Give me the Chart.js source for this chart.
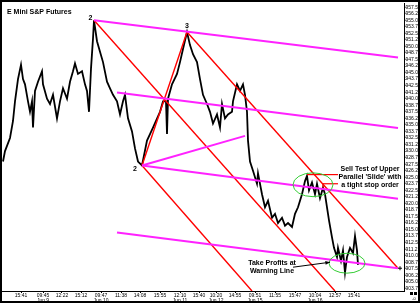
<!DOCTYPE html>
<html>
<head>
<meta charset="utf-8">
<script src="https://cdn.jsdelivr.net/npm/chart.js@4/dist/chart.umd.min.js"></script>
<style>
  html, body { margin: 0; padding: 0; background: #fff; }
  canvas { display: block; }
</style>
</head>
<body>
<canvas id="myChart" width="420" height="303"></canvas>
<script>
// price path, bar index vs price
const bars = [1, 3, 8, 11, 13, 16, 19, 21, 23, 26, 28, 30, 31, 33, 36, 40, 41, 45, 48, 51, 55, 58, 61, 65, 68, 71, 73, 76, 80, 83, 85, 87, 89, 91, 92,
  95, 98, 101, 105, 108, 111, 115, 118, 121, 123, 126, 130, 133, 136, 140,
  145, 151, 158, 161, 164, 165, 166, 170, 175, 178, 181, 185,
  188, 191, 195, 198, 201, 205, 208, 211, 215, 218, 220, 223, 226, 230, 231, 235, 238, 241, 243, 245, 246, 248,
  251, 255, 256, 260, 263, 266, 270, 273, 276, 280, 283, 286, 290, 293, 296, 300, 303, 305, 307, 310, 313, 315, 318, 321, 323,
  325, 327, 330, 332, 335, 336, 339, 341, 343, 345, 348, 351, 353, 355, 356];
const prices = [928.0, 930.0, 932.5, 935.75, 939.5, 943.75, 946.5, 943.75, 942.75, 939.5, 937.5, 939.5, 934.5, 941.5, 943.25, 945.25, 942.75, 940.0, 939.0, 940.75, 936.25, 939.5, 942.0, 940.0, 943.25, 945.25, 946.75, 944.75, 945.25, 942.75, 941.5, 937.5, 945.75, 951.5, 955.0,
  951.0, 949.0, 947.0, 943.25, 942.0, 940.75, 939.5, 937.0, 939.5, 940.75, 936.25, 933.75, 930.5, 928.0, 927.25,
  932.0, 934.5, 937.5, 939.5, 939.5, 933.25, 940.0, 942.75, 944.75, 947.0, 949.5, 952.75,
  950.25, 948.5, 947.0, 943.75, 940.75, 939.0, 937.5, 935.25, 937.0, 934.5, 939.0, 936.25, 937.0, 937.5, 939.5, 942.75, 941.5, 942.75, 940.75, 937.5, 932.0, 928.0,
  926.25, 923.75, 925.75, 921.75, 919.25, 920.5, 917.25, 918.0, 916.25, 917.25, 915.75, 916.25, 915.5, 918.0, 919.25, 921.75, 924.25, 925.25, 922.5, 924.0, 921.75, 923.75, 921.0, 923.0, 921.75,
  919.25, 916.75, 913.5, 911.5, 909.75, 911.5, 909.0, 911.0, 906.75, 909.75, 911.5, 910.5, 913.75, 911.0, 908.25];

// trend lines: [bar1, price1, bar2, price2]
const redLines = [
  [92, 955.0, 333, 903.25],
  [185, 952.75, 396, 907.6],
  [140, 927.25, 250, 903.25],
  [140, 927.25, 185, 952.75]
];
const pinkLines = [
  [92, 955.0, 396, 947.9],
  [115, 941.2, 396, 934.4],
  [140, 927.25, 396, 920.9],
  [115, 914.45, 396, 907.6],
  [140, 927.25, 243, 932.9]
];
const stopLines = [
  [305, 925.5, 336, 925.5],
  [321, 923.75, 336, 923.75],
  [321, 923.75, 321, 923.0]
];

// axis ticks
const xTickBars = [19, 41, 60, 79, 99, 119, 138, 158, 178, 197, 214, 233, 253, 273, 293, 313, 333, 352];
const xTickTimes = ['15:41', '09:45', '12:22', '15:12', '09:47', '11:38', '14:08', '15:55', '12:10', '15:40', '10:20', '14:55', '09:51', '11:55', '15:47', '10:04', '12:57', '15:41'];
const xTickDays = ['', 'Jun 9', '', '', 'Jun 10', '', '', '', 'Jun 11', '', 'Jun 12', '', 'Jun 15', '', '', 'Jun 16', '', ''];
const yTicks = [957.5, 956.25, 955.0, 953.75, 952.5, 951.25, 950.0, 948.75, 947.5, 946.25, 945.0, 943.75, 942.5, 941.25, 940.0,
  938.75, 937.5, 936.25, 935.0, 933.75, 932.5, 931.25, 930.0, 928.75, 927.5, 926.25, 925.0, 923.75, 922.5, 921.25, 920.0,
  918.75, 917.5, 916.25, 915.0, 913.75, 912.5, 911.25, 910.0, 908.75, 907.5, 906.25, 905.0, 903.75];

const FONT = '"Liberation Sans", Arial, sans-serif';

function seg(l, color, w) {
  return {
    data: [{x: l[0], y: l[1]}, {x: l[2], y: l[3]}],
    borderColor: color, borderWidth: w, pointRadius: 0, fill: false
  };
}

// annotation overlay
const overlay = {
  id: 'overlay',
  afterDatasetsDraw(chart) {
    const {ctx, scales: {x, y}} = chart;
    const X = v => x.getPixelForValue(v), Y = v => y.getPixelForValue(v);
    ctx.save();
    ctx.fillStyle = '#000';
    ctx.textBaseline = 'middle';

    // title
    ctx.font = 'bold 7px ' + FONT;
    ctx.textAlign = 'left';
    ctx.fillText('E Mini S&P Futures', 7, 12.5);

    // pivot numbers
    ctx.textAlign = 'center';
    ctx.fillText('2', X(92) - 3.5, Y(955.0) - 2.5);
    ctx.fillText('3', X(185), Y(952.75) - 6);
    ctx.fillText('2', X(140) - 7, Y(927.25) + 3.5);

    // green ellipses
    ctx.strokeStyle = '#33cc33';
    ctx.lineWidth = 1;
    [[311, 923.56, 20, 2.28], [345, 908.56, 18, 1.9]].forEach(e => {
      ctx.beginPath();
      ctx.ellipse(X(e[0]), Y(e[1]), X(e[0] + e[2]) - X(e[0]), Y(e[1] - e[3]) - Y(e[1]), 0, 0, Math.PI * 2);
      ctx.stroke();
    });

    // notes
    ctx.font = 'bold 7px ' + FONT;
    ['Sell Test of Upper', "Parallel 'Slide' with", 'a tight stop order'].forEach((t, i) => {
      ctx.fillText(t, X(368), Y(926.6) + i * 8);
    });
    ['Take Profits at', 'Warning Line'].forEach((t, i) => {
      ctx.fillText(t, X(270), Y(908.56) + i * 8);
    });

    // arrow
    const ax1 = X(291), ay1 = Y(907.8), ax2 = X(328), ay2 = Y(908.75);
    ctx.strokeStyle = '#000';
    ctx.lineWidth = 1;
    ctx.beginPath(); ctx.moveTo(ax1, ay1); ctx.lineTo(ax2, ay2); ctx.stroke();
    const a = Math.atan2(ay2 - ay1, ax2 - ax1);
    ctx.beginPath();
    ctx.moveTo(ax2, ay2);
    ctx.lineTo(ax2 - 5 * Math.cos(a - 0.4), ay2 - 5 * Math.sin(a - 0.4));
    ctx.lineTo(ax2 - 5 * Math.cos(a + 0.4), ay2 - 5 * Math.sin(a + 0.4));
    ctx.closePath(); ctx.fill();

    // last price marker
    const mx = X(398), my = Y(907.6);
    ctx.beginPath();
    ctx.moveTo(mx - 2, my); ctx.lineTo(mx + 2, my);
    ctx.moveTo(mx, my - 2); ctx.lineTo(mx, my + 2);
    ctx.stroke();

    // corner boxes
    ctx.fillRect(410, 292, 3, 3);
    ctx.fillRect(414, 292, 3, 3);
    ctx.font = '4px ' + FONT;
    ctx.fillText('-0', 414, 299);

    // frame
    ctx.lineWidth = 2;
    ctx.strokeRect(1, 1, 418, 301);
    ctx.restore();
  }
};

const ctx = document.getElementById('myChart');
new Chart(ctx, {
  type: 'line',
  data: {
    datasets: [
      ...stopLines.map(l => seg(l, '#ff0000', 1.2)),
      ...pinkLines.map(l => seg(l, '#ff22ff', 2)),
      ...redLines.map(l => seg(l, '#ff0000', 1.4)),
      {
        data: bars.map((b, i) => ({x: b, y: prices[i]})),
        borderColor: '#000', borderWidth: 1.8, pointRadius: 0, tension: 0, fill: false
      }
    ]
  },
  options: {
    responsive: false,
    animation: false,
    devicePixelRatio: 1,
    layout: { padding: { left: 2, top: 1, right: 0, bottom: 2 } },
    plugins: { legend: { display: false }, tooltip: { enabled: false }, title: { display: false } },
    scales: {
      x: {
        type: 'linear', min: 0, max: 402,
        afterBuildTicks: s => { s.ticks = xTickBars.map(v => ({value: v})); },
        afterFit: s => { s.height = 10; },
        ticks: {
          autoSkip: false, maxRotation: 0, padding: 0,
          color: '#000', font: { family: FONT, size: 5, lineHeight: 1 },
          callback: (v, i) => xTickDays[i] ? [xTickTimes[i], xTickDays[i]] : xTickTimes[i]
        },
        grid: { drawOnChartArea: false, tickLength: 2, color: '#000' },
        border: { display: true, color: '#000', width: 1, dash: [1, 1] }
      },
      y: {
        position: 'right', min: 903.25, max: 958.3,
        afterBuildTicks: s => { s.ticks = yTicks.map(v => ({value: v})); },
        afterFit: s => { s.width = 16; },
        ticks: {
          autoSkip: false, padding: 0,
          color: '#000', font: { family: FONT, size: 5 },
          callback: v => v.toFixed(2)
        },
        grid: { drawOnChartArea: false, tickLength: 1.5, color: '#000' },
        border: { display: true, color: '#000', width: 1 }
      }
    }
  },
  plugins: [overlay]
});
</script>
</body>
</html>
